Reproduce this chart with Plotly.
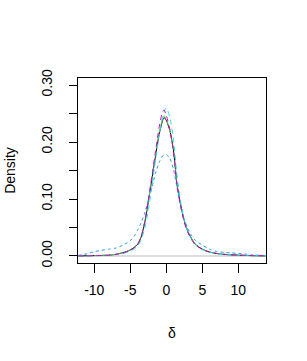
import plotly.graph_objects as go

x_grid = [-12.2, -11, -10, -9, -8, -7, -6, -5, -4.5, -4, -3.5, -3, -2.5, -2, -1.5,
          -1, -0.5, -0.3, 0, 0.5, 1, 1.5, 2, 2.5, 3, 3.5, 4, 5, 6, 7, 8, 9, 10,
          11, 12, 13.8]

dens_black = [0.0002, 0.0004, 0.0007, 0.001, 0.0014, 0.003, 0.0058, 0.0105, 0.015,
              0.02, 0.033, 0.058, 0.094, 0.135, 0.175, 0.213, 0.238, 0.243, 0.238,
              0.22, 0.185, 0.125, 0.09, 0.062, 0.043, 0.031, 0.021, 0.012, 0.007,
              0.0045, 0.0028, 0.002, 0.0014, 0.001, 0.0006, 0.0002]
dens_green = [0.0002, 0.0004, 0.0007, 0.0011, 0.0016, 0.0032, 0.006, 0.0105, 0.015,
              0.021, 0.034, 0.06, 0.096, 0.137, 0.178, 0.216, 0.241, 0.246, 0.24,
              0.221, 0.186, 0.124, 0.088, 0.06, 0.042, 0.03, 0.02, 0.0115, 0.0068,
              0.0043, 0.0027, 0.0019, 0.0013, 0.0009, 0.0005, 0.0002]
dens_magenta = [0.0002, 0.0003, 0.0006, 0.0009, 0.0013, 0.0027, 0.0052, 0.0098, 0.014,
                0.019, 0.033, 0.059, 0.097, 0.14, 0.183, 0.225, 0.254, 0.256, 0.247,
                0.222, 0.183, 0.122, 0.087, 0.059, 0.041, 0.029, 0.02, 0.0115, 0.0068,
                0.0044, 0.003, 0.0022, 0.0016, 0.0011, 0.0007, 0.0004]
dens_cyan = [0.0001, 0.0002, 0.0004, 0.0007, 0.001, 0.0022, 0.0045, 0.0085, 0.012,
             0.017, 0.028, 0.048, 0.08, 0.122, 0.168, 0.21, 0.245, 0.253, 0.26,
             0.243, 0.205, 0.14, 0.095, 0.063, 0.042, 0.03, 0.02, 0.011, 0.0065,
             0.0042, 0.0028, 0.002, 0.0014, 0.0009, 0.0005, 0.0002]
dens_blue = [0.001, 0.004, 0.0075, 0.01, 0.0118, 0.014, 0.019, 0.027, 0.034,
             0.045, 0.058, 0.075, 0.098, 0.12, 0.145, 0.164, 0.176, 0.177, 0.178,
             0.171, 0.152, 0.12, 0.087, 0.064, 0.048, 0.036, 0.028, 0.019, 0.012,
             0.008, 0.0065, 0.0055, 0.0045, 0.0033, 0.002, 0.0008]

series = [
    ("black", dens_black, "#000000", "solid"),
    ("green", dens_green, "#61D04F", "4px,4px"),
    ("blue", dens_blue, "#2297E6", "3px,3px"),
    ("cyan", dens_cyan, "#28E2E5", "5px,4px"),
    ("magenta", dens_magenta, "#CD0BBC", "5px,4px"),
]

y_tickvals = [0, 0.05, 0.10, 0.15, 0.20, 0.25, 0.30]
y_ticktext = ["0.00", "", "0.10", "", "0.20", "", "0.30"]
x_tickvals = [-10, -5, 0, 5, 10]
x_ticktext = ["-10", "-5", "0", "5", "10"]

fig = go.Figure()
for name, ys, col, dash in series:
    fig.add_trace(go.Scatter(x=x_grid, y=ys, mode="lines", name=name,
                             line=dict(color=col, width=1, dash=dash, shape="spline", smoothing=0.6),
                             showlegend=False, hoverinfo="skip"))

fig.add_shape(type="line", xref="paper", yref="y", x0=0, x1=1, y0=0, y1=0,
              line=dict(color="#BEBEBE", width=1), layer="below")

font = dict(family="Liberation Sans, Arial, sans-serif", size=14, color="#000000")
fig.update_layout(
    width=307, height=361,
    margin=dict(l=78, r=41, t=78, b=98, autoexpand=False),
    paper_bgcolor="white", plot_bgcolor="white",
    font=font,
    xaxis=dict(range=[-12.26, 13.85], tickvals=x_tickvals, ticktext=x_ticktext,
               ticks="outside", ticklen=9, tickcolor="black", showgrid=False,
               zeroline=False, showline=True, linecolor="black", linewidth=1, mirror=True,
               ticklabelstandoff=5, automargin=False,
               title=dict(text="δ", standoff=31, font=font)),
    yaxis=dict(range=[-0.0123, 0.3123], tickvals=y_tickvals, ticktext=y_ticktext,
               ticks="outside", ticklen=8, tickcolor="black", showgrid=False,
               zeroline=False, showline=True, linecolor="black", linewidth=1, mirror=True,
               tickangle=-90, ticklabelstandoff=11, automargin=False,
               title=dict(text="Density", standoff=20, font=font)),
)

# remove the page's default 8px body margin so the figure fills the window
fig.write_html("out.html", post_script="document.body.style.margin='0px';",
               config={"displayModeBar": False, "staticPlot": True})
